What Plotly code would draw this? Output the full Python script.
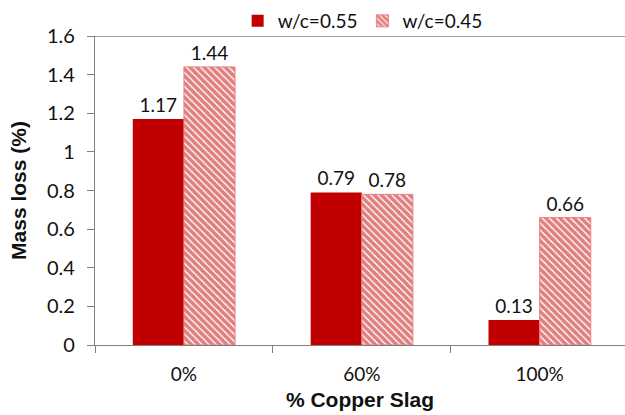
import plotly.graph_objects as go

categories = ["0%", "60%", "100%"]
wc055 = [1.17, 0.79, 0.13]
wc045 = [1.44, 0.78, 0.66]
labels055 = ["1.17", "0.79", "0.13"]
labels045 = ["1.44", "0.78", "0.66"]
yticks = [0, 0.2, 0.4, 0.6, 0.8, 1, 1.2, 1.4, 1.6]
yticktext = ["0", "0.2", "0.4", "0.6", "0.8", "1", "1.2", "1.4", "1.6"]

FONT = "Lato"
RED = "#C00000"
TXT = "#111111"

fig = go.Figure()
fig.add_trace(go.Bar(
    x=categories, y=wc055, name="w/c=0.55",
    marker=dict(color=RED, line=dict(color=RED, width=0)),
    text=labels055, textposition="outside", cliponaxis=False,
    textfont=dict(family=FONT, size=19, color=TXT),
))
fig.add_trace(go.Bar(
    x=categories, y=wc045, name="w/c=0.45",
    marker=dict(color="white",
                line=dict(color="#F08080", width=1),
                pattern=dict(shape="\\", size=5, solidity=0.72,
                             fgcolor=RED, bgcolor="white", fillmode="overlay")),
    text=labels045, textposition="outside", cliponaxis=False,
    textfont=dict(family=FONT, size=19, color=TXT),
))

fig.add_shape(type="line", xref="paper", yref="y", x0=0, x1=1, y0=1.6, y1=1.6,
              line=dict(color="#7f7f7f", width=1.3), layer="above")

fig.update_layout(
    width=625, height=415,
    margin=dict(l=95, r=0, t=36, b=70),
    paper_bgcolor="white", plot_bgcolor="white",
    barmode="group", bargap=0.425, bargroupgap=0,
    font=dict(family=FONT, size=19, color=TXT),
    showlegend=True,
    legend=dict(orientation="h", x=0.505, xanchor="center", y=1.11, yanchor="top",
                font=dict(family=FONT, size=19, color=TXT),
                bgcolor="rgba(0,0,0,0)", traceorder="normal"),
    xaxis=dict(
        type="category", range=[-0.5, 2.48], tickson="boundaries",
        showline=True, linecolor="#7f7f7f", linewidth=1.3,
        ticks="outside", ticklen=7, tickcolor="#7f7f7f", tickwidth=1.3,
        ticklabelstandoff=12,
        showgrid=False, zeroline=False,
        tickfont=dict(family=FONT, size=19, color=TXT),
        title=dict(text="<b>% Copper Slag</b>", standoff=8,
                   font=dict(family="Liberation Sans", size=21, color=TXT)),
    ),
    yaxis=dict(
        range=[0, 1.6], tickvals=yticks, ticktext=yticktext,
        showline=True, linecolor="#7f7f7f", linewidth=1.3,
        ticks="outside", ticklen=7, tickcolor="#7f7f7f", tickwidth=1.3,
        ticklabelstandoff=8,
        showgrid=False, zeroline=False,
        tickfont=dict(family=FONT, size=20, color=TXT),
        title=dict(text="<b>Mass loss (%)</b>", standoff=14,
                   font=dict(family="Liberation Sans", size=21, color=TXT)),
    ),
)

fig.write_html("out.html")
